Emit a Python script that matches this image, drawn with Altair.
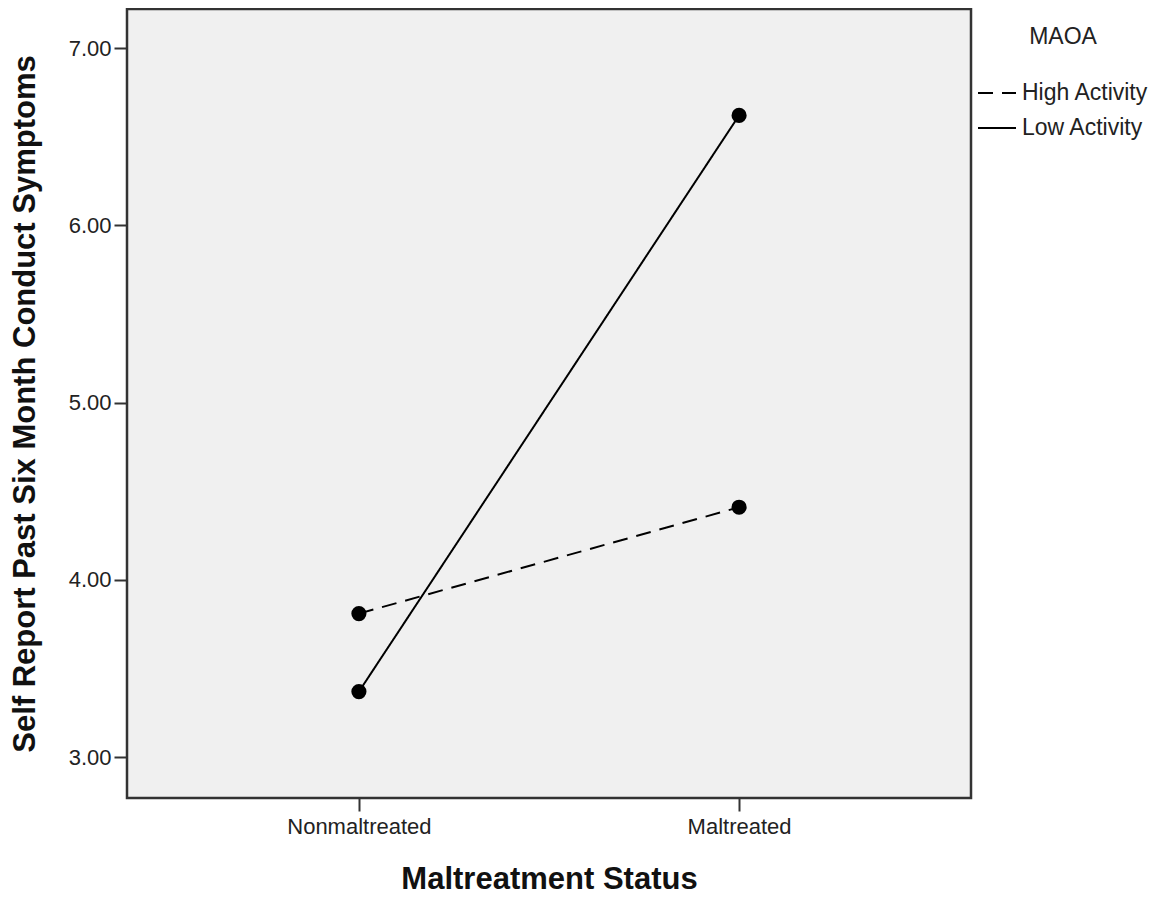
import altair as alt
import pandas as pd

status = ["Nonmaltreated", "Maltreated"]
groups = ["High Activity", "Low Activity"]
high_activity = [3.81, 4.41]
low_activity = [3.37, 6.62]
y_ticks = [3, 4, 5, 6, 7]

rows = []
for g, vals in zip(groups, [high_activity, low_activity]):
    for s, v in zip(status, vals):
        rows.append({"status": s, "MAOA": g, "value": v})
df = pd.DataFrame(rows)

x_enc = alt.X(
    "status:N",
    sort=status,
    scale=alt.Scale(type="point", padding=0.61),
    axis=alt.Axis(
        title="Maltreatment Status",
        labelAngle=0,
        labelPadding=5,
        titlePadding=27,
    ),
)
y_enc = alt.Y(
    "value:Q",
    scale=alt.Scale(domain=[2.77, 7.22], nice=False, zero=False),
    axis=alt.Axis(
        title="Self Report Past Six Month Conduct Symptoms",
        values=y_ticks,
        format=".2f",
        labelPadding=3,
        titlePadding=27,
    ),
)

base = alt.Chart(df)

lines = base.mark_line(color="black", strokeWidth=2).encode(
    x=x_enc,
    y=y_enc,
    strokeDash=alt.StrokeDash(
        "MAOA:N",
        scale=alt.Scale(domain=groups, range=[[15, 9], [1, 0]]),
        legend=alt.Legend(
            title="MAOA",
            orient="none",
            legendX=850,
            legendY=17,
            symbolType="stroke",
            symbolSize=1444,
            symbolStrokeWidth=2,
            symbolStrokeColor="black",
            labelFont="Liberation Sans",
            labelFontSize=23,
            labelColor="#222222",
            labelOffset=5,
            titleFont="Liberation Sans",
            titleFontSize=23,
            titleFontWeight="normal",
            titleColor="#222222",
            titleAnchor="middle",
            titlePadding=24,
            rowPadding=3,
            padding=0,
        ),
    ),
)

points = base.mark_point(filled=True, color="black", size=230, opacity=1).encode(
    x=x_enc,
    y=y_enc,
    detail="MAOA:N",
)

chart = (
    alt.layer(lines, points)
    .properties(
        width=844,
        height=789,
        autosize=alt.AutoSizeParams(type="none"),
        padding={"left": 119, "top": 1, "right": 180, "bottom": 97},
        background="white",
    )
    .configure_view(fill="#f0f0f0", stroke="#333333", strokeWidth=2.5)
    .configure_axis(
        domain=False,
        grid=False,
        tickSize=13,
        tickWidth=2,
        tickColor="#333333",
        labelFont="Liberation Sans",
        labelFontSize=22,
        labelColor="#222222",
        titleFont="Liberation Sans",
        titleFontSize=31,
        titleFontWeight="bold",
        titleColor="#111111",
    )
)

chart.save("out.html", embed_options={"renderer": "svg", "actions": False})
